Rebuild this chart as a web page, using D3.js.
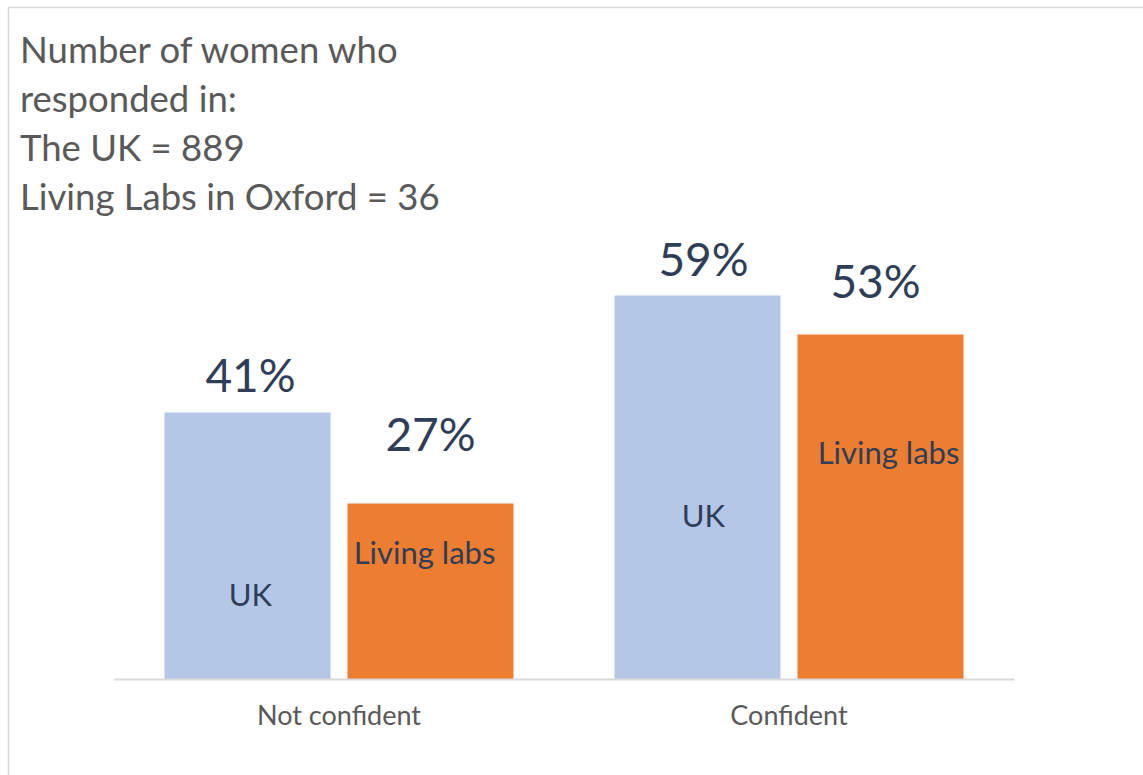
<!DOCTYPE html>
<html>
<head>
<meta charset="utf-8">
<script src="https://cdn.jsdelivr.net/npm/d3@7"></script>
<style>
  html, body { margin: 0; padding: 0; background: #ffffff; }
  svg { display: block; }
  text { font-family: Lato, "Open Sans", sans-serif; }
</style>
</head>
<body>
<svg id="chart" width="1143" height="775"></svg>
<script>
// Survey answers: share of women, by confidence level and sample
const categories = ["Not confident", "Confident"];
const seriesNames = ["UK", "Living labs"];
const ukValues = [41, 59];
const livingLabsValues = [27, 53];
const titleLines = [
  "Number of women who",
  "responded in:",
  "The UK = 889",
  "Living Labs in Oxford = 36"
];

// Hand-placed label nudges (pixels): value label gap above bar, series label depth below bar top
const valueLabelNudge = [
  [{ dx: 3, gap: 21 }, { dx: 0, gap: 53 }],
  [{ dx: 6, gap: 20 }, { dx: -5, gap: 37 }]
];
const nameLabelNudge = [
  [{ dx: 3, depth: 193 }, { dx: -6, depth: 60 }],
  [{ dx: 6, depth: 231 }, { dx: 8, depth: 129 }]
];

const colors = { "UK": "#B4C7E7", "Living labs": "#ED7D31" };
const textDark = "#2F3E58";
const textGrey = "#595959";

const svg = d3.select("#chart");

// Chart frame
svg.append("rect")
  .attr("x", 8.5).attr("y", 7.5)
  .attr("width", 1300).attr("height", 1000)
  .attr("fill", "none")
  .attr("stroke", "#D9D9D9")
  .attr("stroke-width", 1.5);

// Title block
svg.append("g")
  .selectAll("text")
  .data(titleLines)
  .join("text")
  .attr("x", 20)
  .attr("y", (d, i) => 63 + i * 49)
  .attr("font-size", 36.5)
  .attr("fill", textGrey)
  .text(d => d);

// Scales
const x0 = d3.scaleBand().domain(categories).range([114, 1014]).paddingInner(0).paddingOuter(0);
const x1 = d3.scaleBand().domain(seriesNames).range([0, x0.bandwidth()]).paddingInner(0.093).paddingOuter(0.276);
const y = d3.scaleLinear().domain([0, 70]).range([679, 224]);

const rows = categories.map((c, i) => ({
  category: c,
  values: [
    { series: "UK", value: ukValues[i] },
    { series: "Living labs", value: livingLabsValues[i] }
  ]
}));

const groups = svg.append("g")
  .selectAll("g")
  .data(rows)
  .join("g")
  .attr("transform", d => `translate(${x0(d.category)},0)`);

groups.selectAll("rect")
  .data(d => d.values)
  .join("rect")
  .attr("x", d => x1(d.series))
  .attr("y", d => y(d.value))
  .attr("width", x1.bandwidth())
  .attr("height", d => y(0) - y(d.value))
  .attr("fill", d => colors[d.series]);

// Value labels above bars, series names inside bars
groups.each(function (row, ci) {
  const g = d3.select(this);
  row.values.forEach((d, si) => {
    const nv = valueLabelNudge[ci][si];
    g.append("text")
      .attr("x", x1(d.series) + x1.bandwidth() / 2 + nv.dx)
      .attr("y", y(d.value) - nv.gap)
      .attr("text-anchor", "middle")
      .attr("font-size", 46)
      .attr("fill", textDark)
      .text(d.value + "%");
    const nn = nameLabelNudge[ci][si];
    g.append("text")
      .attr("x", x1(d.series) + x1.bandwidth() / 2 + nn.dx)
      .attr("y", y(d.value) + nn.depth)
      .attr("text-anchor", "middle")
      .attr("font-size", 31)
      .attr("fill", textDark)
      .text(d.series);
  });
});

// Category axis
const axis = svg.append("g")
  .attr("transform", `translate(0,${y(0)})`)
  .call(d3.axisBottom(x0).tickSize(0).tickPadding(27));
axis.select(".domain").attr("stroke", "#D9D9D9").attr("stroke-width", 2);
axis.selectAll(".tick text")
  .attr("font-size", 27)
  .attr("fill", textGrey)
  .attr("font-family", "Lato, 'Open Sans', sans-serif");
</script>
</body>
</html>
